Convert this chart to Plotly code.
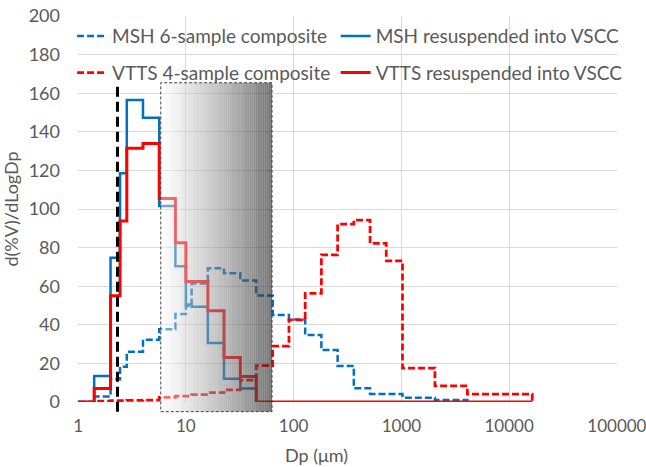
import plotly.graph_objects as go
import numpy as np

# ---- data (step curves: value y[i] holds from edge x[i] to x[i+1]) ----
msh_comp_x = [1, 1.41, 2, 2.45, 2.83, 4, 5.66, 8, 10, 11.3, 16, 22.6, 32, 45, 64, 90.5,
              128, 181, 256, 362, 512, 1024, 2048, 4096]
msh_comp_y = [0, 2.8, 11.8, 18.3, 26, 32.3, 37.7, 45.6, 49.7, 61.4, 69.3, 66.7, 62.9, 55.2, 45.1,
              42.8, 34.7, 26.9, 18.7, 7.1, 4.1, 2.2, 1.0, 0]

msh_res_x = [1, 1.41, 2, 2.45, 2.83, 4, 5.66, 8, 10, 11.3, 16, 22.6, 32, 45]
msh_res_y = [0, 13.5, 74.8, 118.5, 156.5, 147.3, 101.5, 70.3, 50.5, 49.4, 30.6, 12.0, 7.0, 0]

vtts_comp_x = [1, 1.41, 2, 2.83, 4, 5.66, 8, 11.3, 16, 22.6, 32, 45, 64, 90.5, 128, 181,
               256, 362, 512, 724, 1024, 2048, 4096, 16384]
vtts_comp_y = [0, 0.5, 0.7, 0.8, 1.0, 2.4, 3.0, 3.8, 4.8, 6.3, 11.3, 18.8, 29, 42.6, 56.3, 76.2,
               92.2, 94.3, 82.2, 73.1, 17.6, 8.3, 4.1, 0]

vtts_res_x = [1, 1.41, 2, 2.45, 2.83, 4, 5.66, 8, 10, 16, 22.6, 32, 45, 16384]
vtts_res_y = [0, 7.0, 55.0, 93.8, 131.5, 134, 105.5, 82.5, 62.5, 47.3, 23.0, 13.2, 0, 0]

x_tickvals = [1, 10, 100, 1000, 10000, 100000]
x_ticktext = ["1", "10", "100", "1000", "10000", "100000"]

cutoff_dp = 2.32          # black dashed reference line
box_range = [5.85, 63]    # shaded size window

BLUE = "rgb(0,112,192)"
RED = "rgb(255,0,0)"
FONT = "Lato"
GRAY = "#595959"

fig = go.Figure()
fig.add_trace(go.Scatter(x=msh_comp_x, y=msh_comp_y, mode="lines", line_shape="hv",
                         name="MSH 6-sample composite", legend="legend", showlegend=True,
                         line=dict(color=BLUE, width=2.5, dash="7px,3px")))
fig.add_trace(go.Scatter(x=msh_res_x, y=msh_res_y, mode="lines", line_shape="hv",
                         name="MSH resuspended into VSCC", legend="legend2", showlegend=True,
                         line=dict(color=BLUE, width=2.5)))
fig.add_trace(go.Scatter(x=vtts_comp_x, y=vtts_comp_y, mode="lines", line_shape="hv",
                         name="VTTS 4-sample composite", legend="legend3", showlegend=True,
                         line=dict(color=RED, width=2.75, dash="7px,3px")))
fig.add_trace(go.Scatter(x=vtts_res_x, y=vtts_res_y, mode="lines", line_shape="hv",
                         name="VTTS resuspended into VSCC", legend="legend4", showlegend=True,
                         line=dict(color=RED, width=3)))

shapes = []
# gradient overlay (white, translucent -> dark gray)
n = 60
l0, l1 = np.log10(box_range[0]), np.log10(box_range[1])
for i in range(n):
    t = (i + 0.5) / n
    c = int(round(255 + (40 - 255) * t))
    a = 0.45 + (0.65 - 0.45) * t
    shapes.append(dict(type="rect", xref="x", yref="paper",
                       x0=10 ** (l0 + (l1 - l0) * i / n), x1=10 ** (l0 + (l1 - l0) * (i + 1) / n),
                       y0=-0.025, y1=0.827, line=dict(width=0),
                       fillcolor=f"rgba({c},{c},{c},{a:.3f})", layer="above"))
shapes.append(dict(type="rect", xref="x", yref="paper", x0=box_range[0], x1=box_range[1],
                   y0=-0.025, y1=0.827, line=dict(color="#404040", width=1, dash="3px,2px"),
                   fillcolor="rgba(0,0,0,0)", layer="above"))
shapes.append(dict(type="line", xref="x", yref="paper", x0=cutoff_dp, x1=cutoff_dp,
                   y0=-0.025, y1=0.819, line=dict(color="black", width=3, dash="10px,5px"),
                   layer="above"))

leg_common = dict(orientation="h", xanchor="left", yanchor="middle",
                  bgcolor="rgba(0,0,0,0)", font=dict(family=FONT, size=19, color=GRAY))
fig.update_layout(
    width=646, height=467,
    margin=dict(l=78, r=29, t=16, b=65, autoexpand=False),
    plot_bgcolor="white", paper_bgcolor="white",
    font=dict(family=FONT, size=18, color=GRAY),
    showlegend=True,
    shapes=shapes,
    legend=dict(x=-0.011, y=0.948, **leg_common),
    legend2=dict(x=0.478, y=0.948, **leg_common),
    legend3=dict(x=-0.011, y=0.853, **leg_common),
    legend4=dict(x=0.478, y=0.853, **leg_common),
    annotations=[dict(text="Dp (μm)", xref="paper", yref="paper", x=0.443, y=-0.137,
                      xanchor="center", yanchor="middle", showarrow=False,
                      font=dict(family=FONT, size=18, color=GRAY))],
)
fig.update_xaxes(type="log", range=[-0.001, 5.001], tickvals=x_tickvals, ticktext=x_ticktext,
                 showgrid=True, gridcolor="#d9d9d9", gridwidth=1, zeroline=False,
                 showline=False, ticks="", ticklabelstandoff=12, ticklabeloverflow="allow",
                 automargin=False, tickfont=dict(size=17))
fig.update_yaxes(range=[0, 200], dtick=20, showgrid=True, gridcolor="#d9d9d9", gridwidth=1,
                 zeroline=False, showline=False, ticks="", ticklabelstandoff=17,
                 automargin=False,
                 title=dict(text="d(%V)/dLogDp", font=dict(size=18, color=GRAY), standoff=6))

fig.write_html("out.html")
